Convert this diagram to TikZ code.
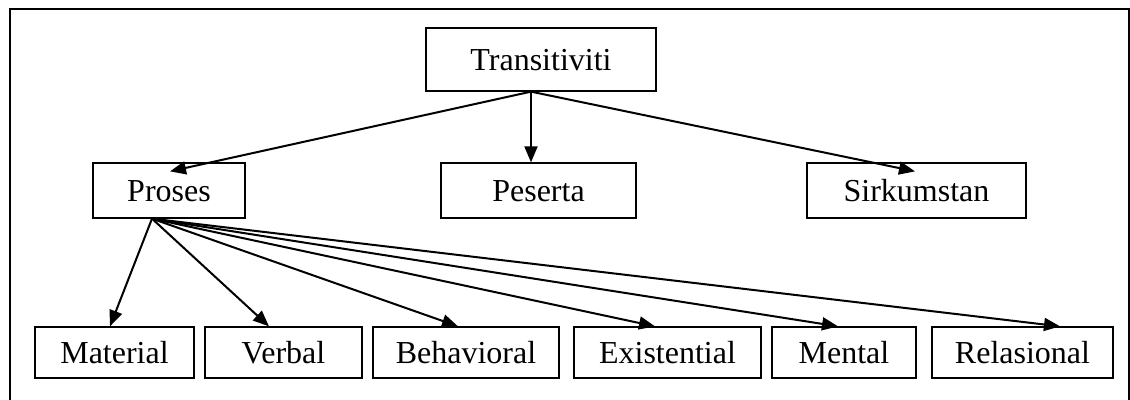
\documentclass[tikz,border=0pt]{standalone}
\usepackage{fontspec}
\setmainfont{Liberation Serif}
\usetikzlibrary{arrows.meta}
\begin{document}
\begin{tikzpicture}[x=1pt,y=-1pt,
  box/.style={draw,line width=1.3pt,inner sep=0pt,text height=21pt,text depth=0pt,
    font=\fontsize{32}{38}\selectfont},
  link/.style={line width=2pt,-{Triangle[length=16pt,width=13pt]}}]
\useasboundingbox (0,0) rectangle (1130,399);
% outer frame
\draw[line width=1.6pt] (10,420) -- (10,9) -- (1129,9) -- (1129,420);
% top level
\node[box,minimum width=230pt,minimum height=63pt] (T) at (541,59.5) {Transitiviti};
% second level
\node[box,minimum width=152pt,minimum height=55pt] (P) at (169,190.5) {Proses};
\node[box,minimum width=195pt,minimum height=55pt] (Q) at (538.5,190.5) {Peserta};
\node[box,minimum width=219pt,minimum height=55pt] (S) at (916.5,190.5) {Sirkumstan};
% third level
\node[box,minimum width=159pt,minimum height=51pt] (M1) at (114.5,352.5) {Material};
\node[box,minimum width=157pt,minimum height=51pt] (M2) at (283.5,352.5) {Verbal};
\node[box,minimum width=186pt,minimum height=51pt] (M3) at (466,352.5) {Behavioral};
\node[box,minimum width=187pt,minimum height=51pt] (M4) at (667.5,352.5) {Existential};
\node[box,minimum width=144pt,minimum height=51pt] (M5) at (844,352.5) {Mental};
\node[box,minimum width=181pt,minimum height=51pt] (M6) at (1022.5,352.5) {Relasional};
% connectors from Transitiviti
\draw[link] ([xshift=-10pt]T.south) -- ([xshift=1pt,yshift=-9pt]P.north);
\draw[link] ([xshift=-10pt]T.south) -- ([xshift=-7.5pt]Q.north);
\draw[link] ([xshift=-10pt]T.south) -- ([xshift=-1.5pt,yshift=-9pt]S.north);
% connectors from Proses
\draw[link] ([xshift=-17pt]P.south) -- ([xshift=-4.5pt]M1.north);
\draw[link] ([xshift=-17pt]P.south) -- ([xshift=-14.5pt]M2.north);
\draw[link] ([xshift=-17pt]P.south) -- ([xshift=-8pt]M3.north);
\draw[link] ([xshift=-17pt]P.south) -- ([xshift=-12.5pt]M4.north);
\draw[link] ([xshift=-17pt]P.south) -- ([xshift=-6pt]M5.north);
\draw[link] ([xshift=-17pt]P.south) -- ([xshift=37.5pt]M6.north);
\end{tikzpicture}
\end{document}
